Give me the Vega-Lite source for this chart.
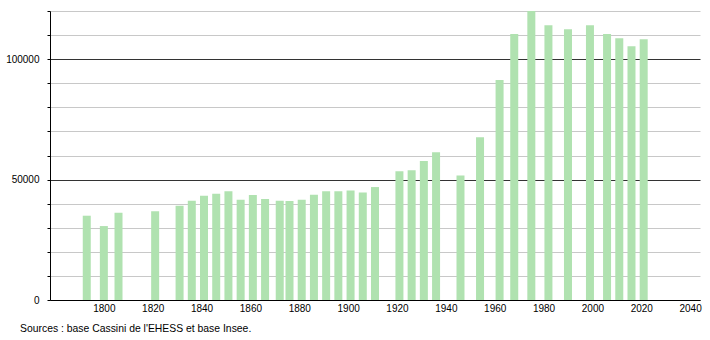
{
  "$schema": "https://vega.github.io/schema/vega-lite/v6.json",
  "width": 650,
  "height": 289,
  "autosize": {"type": "none"},
  "padding": {"left": 50, "top": 11, "right": 10, "bottom": 40},
  "background": "white",
  "config": {"view": {"stroke": null}, "font": "Liberation Sans"},
  "title": {
    "text": "Sources : base Cassini de l'EHESS et base Insee.",
    "orient": "bottom",
    "anchor": "start",
    "frame": "group",
    "dx": -30,
    "offset": 11,
    "fontSize": 10.4,
    "fontWeight": "normal",
    "color": "#000"
  },
  "data": {
    "values": [
      {"year": 1793, "population": 35000},
      {"year": 1800, "population": 30700},
      {"year": 1806, "population": 36200},
      {"year": 1821, "population": 36900},
      {"year": 1831, "population": 39100},
      {"year": 1836, "population": 41200},
      {"year": 1841, "population": 43300},
      {"year": 1846, "population": 44100},
      {"year": 1851, "population": 45200},
      {"year": 1856, "population": 41600},
      {"year": 1861, "population": 43600},
      {"year": 1866, "population": 41900},
      {"year": 1872, "population": 41200},
      {"year": 1876, "population": 41100},
      {"year": 1881, "population": 41600},
      {"year": 1886, "population": 43700},
      {"year": 1891, "population": 45200},
      {"year": 1896, "population": 45200},
      {"year": 1901, "population": 45500},
      {"year": 1906, "population": 44600},
      {"year": 1911, "population": 46900},
      {"year": 1921, "population": 53500},
      {"year": 1926, "population": 53900},
      {"year": 1931, "population": 57700},
      {"year": 1936, "population": 61400},
      {"year": 1946, "population": 51700},
      {"year": 1954, "population": 67600},
      {"year": 1962, "population": 91300},
      {"year": 1968, "population": 110400},
      {"year": 1975, "population": 120000},
      {"year": 1982, "population": 114100},
      {"year": 1990, "population": 112400},
      {"year": 1999, "population": 114100},
      {"year": 2006, "population": 110400},
      {"year": 2011, "population": 108700},
      {"year": 2016, "population": 105400},
      {"year": 2021, "population": 108300}
    ]
  },
  "mark": {"type": "bar", "size": 8, "color": "#b0e2b0"},
  "encoding": {
    "x": {
      "field": "year",
      "type": "quantitative",
      "scale": {"domain": [1780, 2042], "nice": false, "zero": false},
      "axis": {
        "title": null,
        "values": [1800, 1820, 1840, 1860, 1880, 1900, 1920, 1940, 1960, 1980, 2000, 2020, 2040],
        "format": "d",
        "grid": false,
        "ticks": false,
        "domainColor": "#000",
        "domainWidth": 1,
        "labelFontSize": 10,
        "labelColor": "#000",
        "labelPadding": 3,
        "labelFlush": false
      }
    },
    "y": {
      "field": "population",
      "type": "quantitative",
      "scale": {"domain": [0, 120000], "nice": false},
      "axis": {
        "title": null,
        "values": [0, 10000, 20000, 30000, 40000, 50000, 60000, 70000, 80000, 90000, 100000, 110000, 120000],
        "labelExpr": "datum.value % 50000 === 0 ? datum.value : ''",
        "grid": true,
        "gridColor": {"condition": {"test": "datum.value % 50000 === 0", "value": "#333"}, "value": "#c8c8c8"},
        "gridWidth": 1,
        "tickSize": 3,
        "tickColor": "#000",
        "domainColor": "#000",
        "labelFontSize": 10,
        "labelColor": "#000",
        "labelPadding": 8,
        "labelFlush": false
      }
    }
  }
}
